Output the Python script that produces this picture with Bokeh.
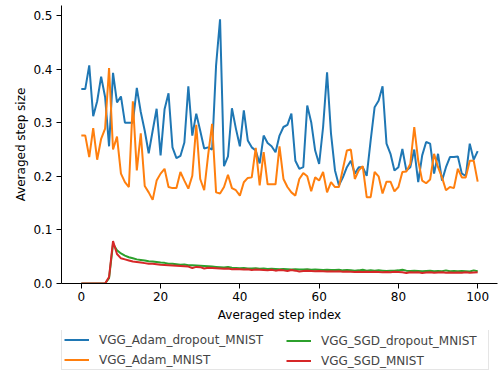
from bokeh.plotting import figure
from bokeh.layouts import column
from bokeh.models import Legend, LegendItem, FixedTicker, NumeralTickFormatter, Range1d
from bokeh.embed import file_html
from bokeh.resources import INLINE

steps = list(range(101))

adam_dropout = [
    0.363, 0.363, 0.407, 0.312, 0.340, 0.386, 0.348, 0.256, 0.393, 0.338,
    0.349, 0.300, 0.300, 0.300, 0.365, 0.320, 0.285, 0.243, 0.285, 0.326,
    0.239, 0.325, 0.355, 0.254, 0.234, 0.238, 0.263, 0.368, 0.276, 0.317,
    0.285, 0.252, 0.254, 0.250, 0.407, 0.493, 0.219, 0.237, 0.327, 0.289,
    0.256, 0.323, 0.267, 0.254, 0.248, 0.224, 0.276, 0.262, 0.256, 0.245,
    0.276, 0.292, 0.296, 0.317, 0.229, 0.214, 0.217, 0.332, 0.301, 0.248,
    0.223, 0.292, 0.394, 0.279, 0.211, 0.183, 0.198, 0.217, 0.229, 0.205,
    0.217, 0.217, 0.201, 0.267, 0.329, 0.341, 0.368, 0.261, 0.242, 0.211,
    0.217, 0.251, 0.211, 0.217, 0.250, 0.189, 0.239, 0.264, 0.261, 0.205,
    0.242, 0.192, 0.217, 0.236, 0.236, 0.237, 0.205, 0.201, 0.261, 0.231,
    0.247,
]

adam = [
    0.276, 0.276, 0.236, 0.290, 0.231, 0.270, 0.289, 0.402, 0.250, 0.274,
    0.205, 0.189, 0.180, 0.340, 0.211, 0.280, 0.182, 0.170, 0.156, 0.192,
    0.205, 0.214, 0.180, 0.178, 0.178, 0.208, 0.192, 0.177, 0.201, 0.296,
    0.195, 0.174, 0.240, 0.298, 0.170, 0.168, 0.180, 0.203, 0.178, 0.174,
    0.164, 0.189, 0.197, 0.198, 0.253, 0.183, 0.245, 0.185, 0.185, 0.185,
    0.256, 0.195, 0.180, 0.170, 0.164, 0.195, 0.206, 0.200, 0.172, 0.198,
    0.192, 0.208, 0.170, 0.189, 0.180, 0.180, 0.214, 0.248, 0.250, 0.195,
    0.211, 0.219, 0.161, 0.161, 0.208, 0.200, 0.168, 0.190, 0.190, 0.172,
    0.180, 0.208, 0.209, 0.223, 0.292, 0.229, 0.192, 0.187, 0.194, 0.242,
    0.217, 0.198, 0.174, 0.180, 0.178, 0.214, 0.198, 0.198, 0.229, 0.229,
    0.190,
]

sgd_dropout = [
    0.0, 0.0, 0.0, 0.0, 0.0, 0.0, 0.0, 0.010, 0.074, 0.062,
    0.056, 0.052, 0.049, 0.047, 0.045, 0.044, 0.043, 0.0415, 0.041, 0.040,
    0.039, 0.0385, 0.037, 0.037, 0.036, 0.035, 0.0355, 0.034, 0.034, 0.0335,
    0.033, 0.0325, 0.032, 0.0315, 0.031, 0.0305, 0.030, 0.031, 0.0295, 0.029,
    0.0285, 0.029, 0.028, 0.028, 0.0285, 0.0275, 0.028, 0.027, 0.0275, 0.027,
    0.0265, 0.027, 0.0265, 0.026, 0.0265, 0.026, 0.026, 0.0265, 0.0255, 0.026,
    0.0255, 0.025, 0.0255, 0.025, 0.025, 0.0255, 0.0245, 0.025, 0.0245, 0.024,
    0.0245, 0.0255, 0.024, 0.0245, 0.024, 0.0245, 0.024, 0.0235, 0.024, 0.024,
    0.0245, 0.0255, 0.024, 0.0235, 0.024, 0.0235, 0.023, 0.0235, 0.024, 0.023,
    0.0235, 0.023, 0.0245, 0.023, 0.0235, 0.023, 0.0235, 0.023, 0.0225, 0.0245,
    0.023,
]

sgd = [
    0.0, 0.0, 0.0, 0.0, 0.0, 0.0, 0.0, 0.012, 0.079, 0.055,
    0.047, 0.045, 0.043, 0.041, 0.040, 0.039, 0.038, 0.037, 0.037, 0.036,
    0.035, 0.0345, 0.034, 0.0335, 0.033, 0.0325, 0.032, 0.0315, 0.029, 0.031,
    0.0305, 0.028, 0.0295, 0.029, 0.0285, 0.028, 0.0275, 0.028, 0.0265, 0.027,
    0.0265, 0.026, 0.0265, 0.025, 0.026, 0.0255, 0.025, 0.0245, 0.0255, 0.024,
    0.025, 0.0245, 0.0235, 0.025, 0.024, 0.0225, 0.0235, 0.024, 0.0235, 0.023,
    0.0235, 0.023, 0.0225, 0.023, 0.0225, 0.023, 0.022, 0.0225, 0.022, 0.0215,
    0.022, 0.0215, 0.022, 0.0215, 0.022, 0.0215, 0.021, 0.0215, 0.021, 0.022,
    0.0215, 0.021, 0.0195, 0.021, 0.0205, 0.021, 0.0195, 0.0205, 0.021, 0.020,
    0.0205, 0.021, 0.020, 0.0205, 0.020, 0.0205, 0.020, 0.021, 0.020, 0.0205,
    0.021,
]

series_names = ["VGG_Adam_dropout_MNIST", "VGG_Adam_MNIST", "VGG_SGD_dropout_MNIST", "VGG_SGD_MNIST"]
series_colors = ["#1f77b4", "#ff7f0e", "#2ca02c", "#d62728"]
x_ticks = [0, 20, 40, 60, 80, 100]
y_ticks = [0.0, 0.1, 0.2, 0.3, 0.4, 0.5]
all_series = [adam_dropout, adam, sgd_dropout, sgd]

FONT = "DejaVu Sans"

# ---- main chart ----
p = figure(width=498, height=330, output_backend="svg", toolbar_location=None,
           x_range=Range1d(-5, 105), y_range=Range1d(0, 0.5187),
           min_border_left=61, min_border_right=1, min_border_top=5,
           min_border_bottom=47)

for data, color in zip(all_series, series_colors):
    p.line(steps, data, line_color=color, line_width=2)

p.xgrid.visible = False
p.ygrid.visible = False
p.outline_line_color = None

p.xaxis.ticker = FixedTicker(ticks=x_ticks)
p.yaxis.ticker = FixedTicker(ticks=y_ticks)
p.yaxis.formatter = NumeralTickFormatter(format="0.0")
p.xaxis.axis_label = "Averaged step index"
p.yaxis.axis_label = "Averaged step size"
for ax in [p.xaxis[0], p.yaxis[0]]:
    ax.major_tick_out = 5
    ax.major_tick_in = 0
    ax.minor_tick_out = 0
    ax.minor_tick_in = 0
    ax.major_tick_line_color = "black"
    ax.axis_line_color = "black"
    ax.axis_line_width = 1
    ax.major_label_text_font = FONT
    ax.major_label_text_font_size = "12px"
    ax.major_label_text_color = "black"
    ax.axis_label_text_font = FONT
    ax.axis_label_text_font_size = "12px"
    ax.axis_label_text_font_style = "normal"
    ax.axis_label_text_color = "black"
p.xaxis.major_label_standoff = 3
p.yaxis.major_label_standoff = 4
p.xaxis.axis_label_standoff = 4
p.yaxis.axis_label_standoff = 2

# ---- legend strip below the chart (frame of this strip is aligned to x=61..497) ----
p2 = figure(width=498, height=41, output_backend="svg", toolbar_location=None,
            x_range=Range1d(-5, 105), y_range=Range1d(5, 6),
            x_axis_type=None, y_axis_type=None,
            min_border_left=61, min_border_right=1, min_border_top=0,
            min_border_bottom=0)
p2.xgrid.visible = False
p2.ygrid.visible = False
p2.outline_line_color = None

# key lines use the same series (they sit outside this strip's visible y range)
keys = [p2.line(steps, data, line_color=c, line_width=2)
        for data, c in zip(all_series, series_colors)]

common = dict(
    orientation="vertical",
    label_text_font=FONT, label_text_font_size="12px",
    glyph_width=25, glyph_height=15, label_height=15,
    label_standoff=10, spacing=5, padding=2, margin=0,
)
leg_a = Legend(
    items=[LegendItem(label=series_names[0], renderers=[keys[0]]),
           LegendItem(label=series_names[1], renderers=[keys[1]])],
    location=(0, 1), label_width=387,
    border_line_color="#cccccc", border_line_width=1,
    background_fill_color="white", background_fill_alpha=1,
    **common,
)
leg_b = Legend(
    items=[LegendItem(label=series_names[2], renderers=[keys[2]]),
           LegendItem(label=series_names[3], renderers=[keys[3]])],
    location=(225, 3),
    border_line_color=None, background_fill_alpha=0,
    **common,
)
p2.add_layout(leg_a)
p2.add_layout(leg_b)

layout = column(p, p2, spacing=0)
open("out.html", "w").write(file_html(layout, INLINE))
